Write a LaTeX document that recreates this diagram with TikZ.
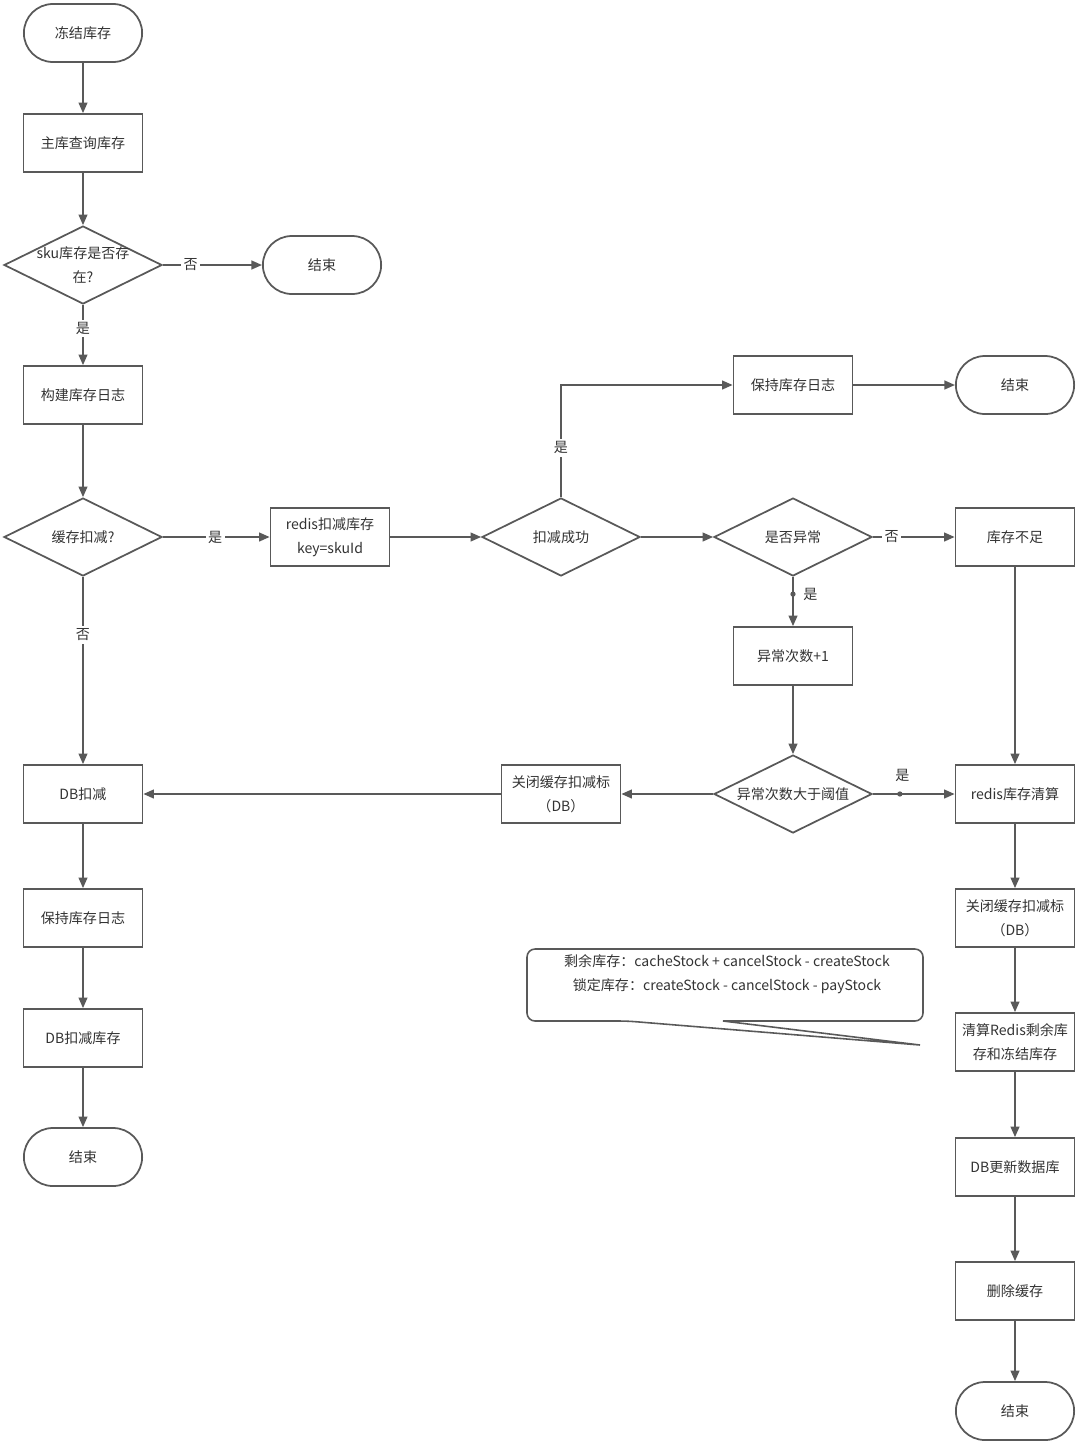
\documentclass[tikz,border=0pt]{standalone}
\usepackage{fontspec}
\setmainfont{Noto Sans CJK SC}
\usetikzlibrary{shapes.geometric,shapes.misc,arrows.meta}
\definecolor{linegray}{HTML}{595959}
\definecolor{textgray}{HTML}{333333}

\begin{document}
\begin{tikzpicture}[x=0.02cm, y=-0.02cm, line width=1pt,
  every node/.style={font=\fontsize{8}{13.6}\selectfont, text=textgray},
  box/.style={draw=linegray, rectangle, minimum width=2.38cm, minimum height=1.16cm, align=center, inner sep=1pt},
  term/.style={draw=linegray, rounded rectangle, minimum width=2.6cm, minimum height=1.16cm},
  decide/.style={draw=linegray, diamond, aspect=2, minimum width=3.16cm, minimum height=1.56cm, inner sep=0pt, align=center},
  arr/.style={draw=linegray, -{Triangle[length=6pt,width=5pt]}},
  lbl/.style={fill=white, inner sep=1.5pt},
  dot/.style={circle, fill=linegray, draw=none, inner sep=0pt, minimum size=3pt}]
  \useasboundingbox (0,0) rectangle (1080,1444);
  % 主流程
  \node[term] (freeze) at (83,33) {冻结库存};
  \node[box] (query) at (83,143) {主库查询库存};
  \node[decide, inner sep=-5pt] (exists) at (83,265) {sku库存是否存\\在?};
  \node[term] (endA) at (322,265) {结束};
  \node[box] (buildlog) at (83,395) {构建库存日志};
  \node[decide] (cached) at (83,537) {缓存扣减?};
  \node[box] (redisdec) at (330,537) {redis扣减库存\\key=skuId};
  \node[decide] (success) at (561,537) {扣减成功};
  \node[box] (keeplogA) at (793,385) {保持库存日志};
  \node[term] (endB) at (1015,385) {结束};
  \node[decide] (abnormal) at (793,537) {是否异常};
  \node[box] (shortage) at (1015,537) {库存不足};
  \node[box] (count) at (793,656) {异常次数+1};
  \node[decide] (limit) at (793,794) {异常次数大于阈值};
  \node[box] (closeA) at (561,794) {关闭缓存扣减标\\（DB）};
  % DB 扣减
  \node[box] (dbdec) at (83,794) {DB扣减};
  \node[box] (keeplogB) at (83,918) {保持库存日志};
  \node[box] (dbstock) at (83,1038) {DB扣减库存};
  \node[term] (endC) at (83,1157) {结束};
  % 清算
  \node[box] (clear) at (1015,794) {redis库存清算};
  \node[box] (closeB) at (1015,918) {关闭缓存扣减标\\（DB）};
  \node[box] (settle) at (1015,1042) {清算Redis剩余库\\存和冻结库存};
  \node[box] (update) at (1015,1167) {DB更新数据库};
  \node[box] (delcache) at (1015,1291) {删除缓存};
  \node[term] (endD) at (1015,1411) {结束};
  % 注释
  \node[align=center] (note) at (727,974) {剩余库存：cacheStock + cancelStock - createStock\\锁定库存：createStock - cancelStock - payStock};
  \draw[linegray, line width=0.9pt] (627,1021) -- (920,1045) -- (723,1021)
    [rounded corners=0.16cm] -- (923,1021) -- (923,949) -- (527,949) -- (527,1021) -- cycle;
  % 连线
  \draw[arr] (freeze) -- (query);
  \draw[arr] (query) -- (exists);
  \draw[arr] (exists) -- node[lbl, pos=0.28] {否} (endA);
  \draw[arr] (exists) -- node[lbl, pos=0.39] {是} (buildlog);
  \draw[arr] (buildlog) -- (cached);
  \draw[arr] (cached) -- node[lbl, pos=0.49] {是} (redisdec);
  \draw[arr] (cached) -- node[lbl, pos=0.31] {否} (dbdec);
  \draw[arr] (redisdec) -- (success);
  \draw[arr] (success.north) |- node[lbl, pos=0.22] {是} (keeplogA);
  \draw[arr] (keeplogA) -- (endB);
  \draw[arr] (success) -- (abnormal);
  \draw[arr] (abnormal) -- node[lbl, pos=0.23] {否} (shortage);
  \draw[arr] (abnormal) -- node[dot, pos=0.35] {} node[pos=0.35, right=2pt] {是} (count);
  \draw[arr] (count) -- (limit);
  \draw[arr] (limit) -- (closeA);
  \draw[arr] (closeA) -- (dbdec);
  \draw[arr] (limit) -- node[dot, pos=0.33] {} node[pos=0.36, above=3pt] {是} (clear);
  \draw[arr] (shortage) -- (clear);
  \draw[arr] (dbdec) -- (keeplogB);
  \draw[arr] (keeplogB) -- (dbstock);
  \draw[arr] (dbstock) -- (endC);
  \draw[arr] (clear) -- (closeB);
  \draw[arr] (closeB) -- (settle);
  \draw[arr] (settle) -- (update);
  \draw[arr] (update) -- (delcache);
  \draw[arr] (delcache) -- (endD);
\end{tikzpicture}
\end{document}
